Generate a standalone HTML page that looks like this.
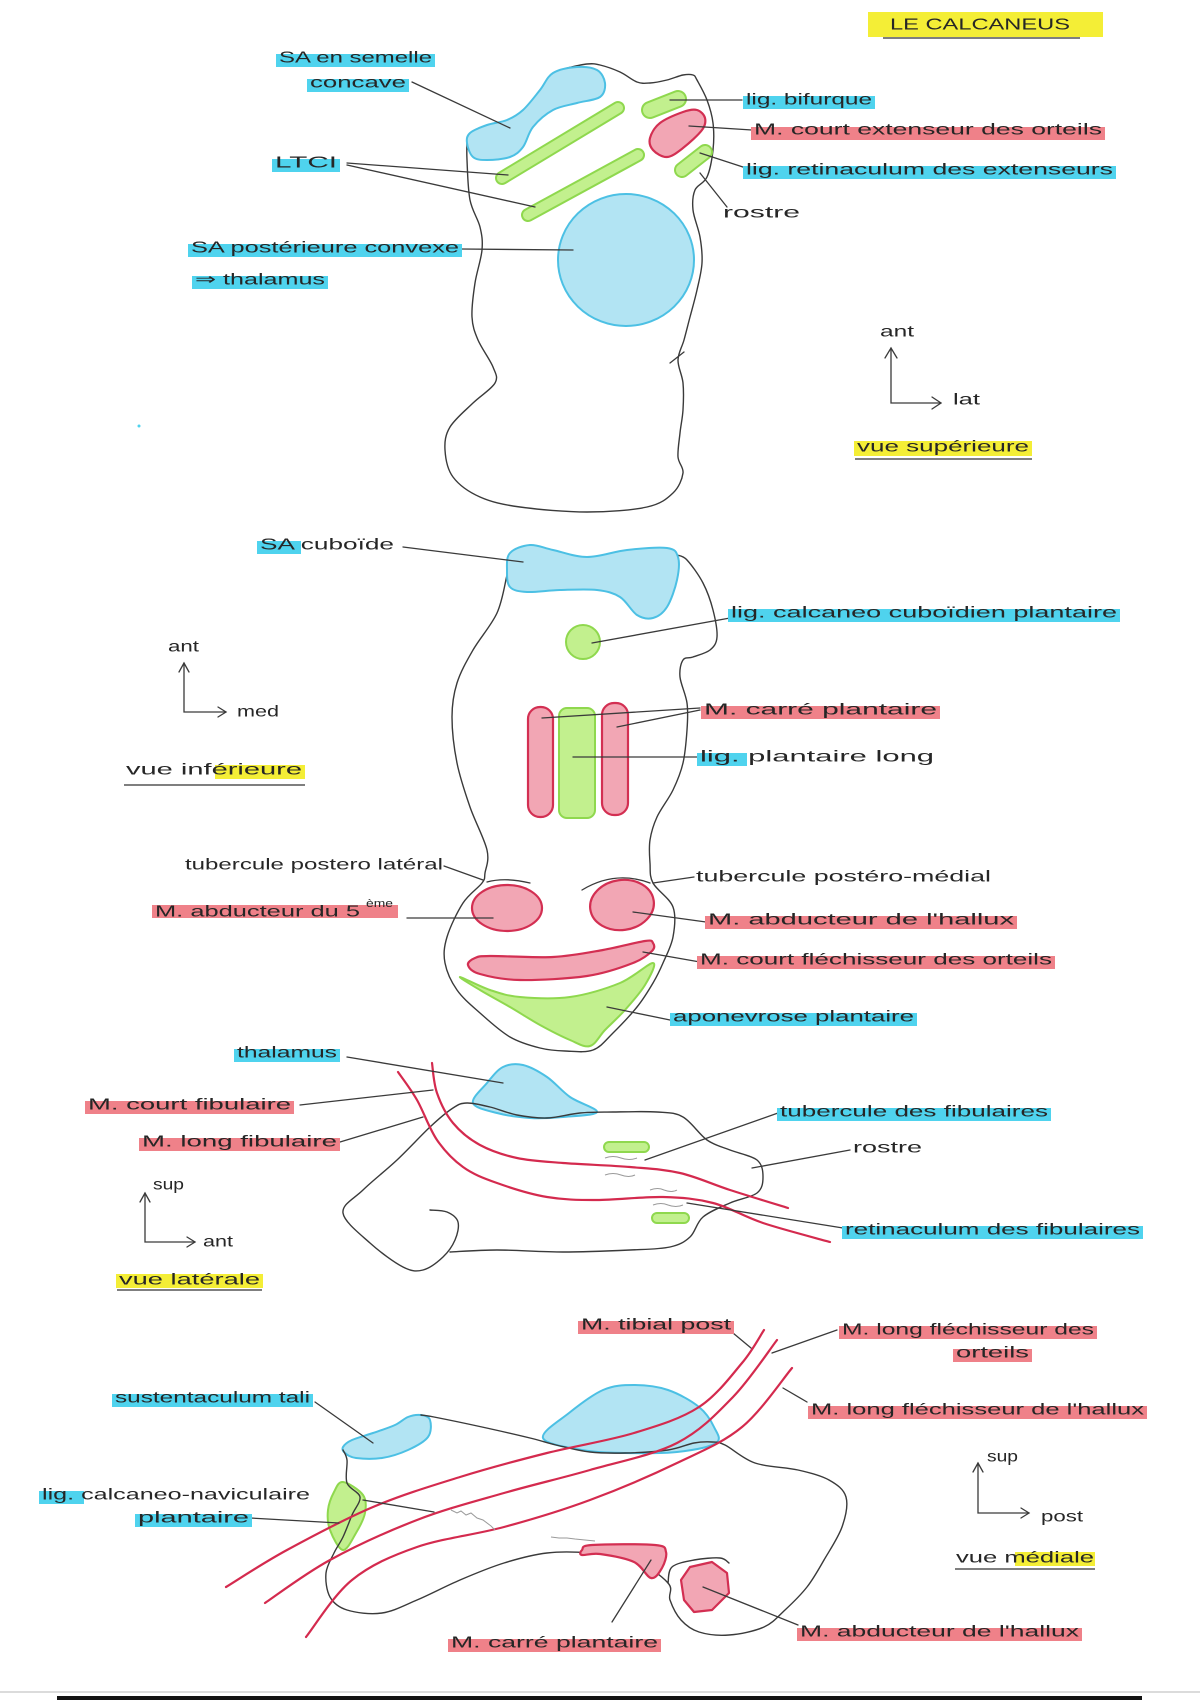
<!DOCTYPE html>
<html><head><meta charset="utf-8">
<style>
html,body{margin:0;padding:0;background:#fff;}
svg{display:block;}
.t{font-family:"Liberation Sans",sans-serif;font-size:16px;fill:#262626;dominant-baseline:central;}
.s{font-size:11px;}
.o{fill:none;stroke:#3a3a3a;stroke-width:1.4;stroke-linejoin:round;stroke-linecap:round;}
.l{fill:none;stroke:#3a3a3a;stroke-width:1.3;stroke-linecap:round;}
.b{fill:#b2e4f3;stroke:#4cc0e4;stroke-width:2;stroke-linejoin:round;}
.g{fill:#c2f08e;stroke:#8fd84e;stroke-width:2;stroke-linejoin:round;}
.r{fill:#f2a6b4;stroke:#d32f52;stroke-width:2.2;stroke-linejoin:round;}
.tn{fill:none;stroke:#d42a4e;stroke-width:2.2;stroke-linecap:round;stroke-linejoin:round;}
.hc{fill:#4fd3ee;}
.hr{fill:#ef8189;}
.hy{fill:#f4ee36;}
.gs{fill:none;stroke:#9a9a9a;stroke-width:1;}
</style></head>
<body>
<svg id="sv" width="1200" height="1700" viewBox="0 0 1200 1700" xmlns="http://www.w3.org/2000/svg">
<rect width="1200" height="1700" fill="#fff"/>

<!-- ================= TITLE ================= -->
<rect x="868" y="12" width="235" height="25" class="hy"/>
<line x1="883" y1="38" x2="1080" y2="38" stroke="#555" stroke-width="1.5"/>
<text x="890" y="25" textLength="180" lengthAdjust="spacingAndGlyphs" class="t">LE CALCANEUS</text>

<!-- ================= SUPERIOR VIEW ================= -->
<polyline class="o sm" points="567,68 587,64 600,65 620,72 637,82 650,83 667,80 683,75 693,75 697,80 707,100 713,123 713,150 707,177 695,190 693,210 700,237 702,263 697,290 690,317 684,340 678,360 683,383 683,410 680,433 678,457 683,473 673,493 647,507 587,512 520,507 480,497 453,477 445,450 450,427 473,403 495,383 493,367 478,340 472,317 475,283 482,250 480,227 470,200 467,160 467,140"/>
<line class="l" x1="670" y1="363" x2="684" y2="352"/>
<!-- blue concave -->
<polygon class="b sm" points="467,143 470,133 487,125 507,120 523,110 540,90 553,73 577,67 597,70 605,83 600,97 577,103 553,110 533,127 523,147 510,157 487,160 473,157"/>
<!-- green bars -->
<line x1="502" y1="178" x2="618" y2="108" stroke="#8fd84e" stroke-width="14" stroke-linecap="round"/>
<line x1="502" y1="178" x2="618" y2="108" stroke="#c2f08e" stroke-width="10" stroke-linecap="round"/>
<line x1="528" y1="215" x2="638" y2="155" stroke="#8fd84e" stroke-width="14" stroke-linecap="round"/>
<line x1="528" y1="215" x2="638" y2="155" stroke="#c2f08e" stroke-width="10" stroke-linecap="round"/>
<line x1="650" y1="110" x2="678" y2="99" stroke="#8fd84e" stroke-width="18" stroke-linecap="round"/>
<line x1="650" y1="110" x2="678" y2="99" stroke="#c2f08e" stroke-width="14" stroke-linecap="round"/>
<line x1="682" y1="170" x2="705" y2="152" stroke="#8fd84e" stroke-width="16" stroke-linecap="round"/>
<line x1="682" y1="170" x2="705" y2="152" stroke="#c2f08e" stroke-width="12" stroke-linecap="round"/>
<!-- red -->
<polygon class="r sm" points="660,123 683,112 697,110 705,118 702,130 683,148 667,157 653,150 650,138"/>
<!-- blue thalamus circle -->
<ellipse class="b" cx="626" cy="260" rx="68" ry="66"/>
<!-- leaders -->
<line class="l" x1="412" y1="82" x2="510" y2="128"/>
<line class="l" x1="347" y1="163" x2="508" y2="175"/>
<line class="l" x1="347" y1="165" x2="535" y2="207"/>
<line class="l" x1="461" y1="249" x2="573" y2="250"/>
<line class="l" x1="670" y1="100" x2="742" y2="100"/>
<line class="l" x1="689" y1="126" x2="752" y2="130"/>
<line class="l" x1="700" y1="153" x2="746" y2="168"/>
<line class="l" x1="700" y1="173" x2="727" y2="207"/>
<!-- labels -->
<rect x="276" y="54" width="159" height="13" class="hc"/>
<text x="279" y="58" textLength="153" lengthAdjust="spacingAndGlyphs" class="t">SA en semelle</text>
<rect x="307" y="79" width="102" height="13" class="hc"/>
<text x="310" y="83" textLength="96" lengthAdjust="spacingAndGlyphs" class="t">concave</text>
<rect x="272" y="159" width="68" height="13" class="hc"/>
<text x="275" y="163" textLength="62" lengthAdjust="spacingAndGlyphs" class="t">LTCI</text>
<rect x="188" y="244" width="274" height="13" class="hc"/>
<text x="191" y="248" textLength="268" lengthAdjust="spacingAndGlyphs" class="t">SA postérieure convexe</text>
<rect x="192" y="276" width="136" height="13" class="hc"/>
<text x="195" y="280" textLength="130" lengthAdjust="spacingAndGlyphs" class="t">⇒ thalamus</text>
<rect x="743" y="96" width="132" height="13" class="hc"/>
<text x="746" y="100" textLength="126" lengthAdjust="spacingAndGlyphs" class="t">lig. bifurque</text>
<rect x="751" y="127" width="354" height="13" class="hr"/>
<text x="754" y="130" textLength="348" lengthAdjust="spacingAndGlyphs" class="t">M. court extenseur des orteils</text>
<rect x="743" y="166" width="373" height="13" class="hc"/>
<text x="746" y="170" textLength="367" lengthAdjust="spacingAndGlyphs" class="t">lig. retinaculum des extenseurs</text>
<text x="723" y="213" textLength="77" lengthAdjust="spacingAndGlyphs" class="t">rostre</text>
<!-- axes -->
<text x="880" y="332" textLength="34" lengthAdjust="spacingAndGlyphs" class="t">ant</text>
<text x="953" y="400" textLength="27" lengthAdjust="spacingAndGlyphs" class="t">lat</text>
<polyline class="l" points="891,348 891,403 941,403"/>
<polyline class="l" points="885,358 891,348 897,358"/>
<polyline class="l" points="932,397 941,403 932,409"/>
<rect x="854" y="441" width="178" height="15" class="hy"/>
<line x1="855" y1="459" x2="1032" y2="459" stroke="#555" stroke-width="1.5"/>
<text x="857" y="447" textLength="172" lengthAdjust="spacingAndGlyphs" class="t">vue supérieure</text>
<circle cx="139" cy="426" r="1.5" fill="#4fd3ee"/>

<!-- ================= INFERIOR VIEW ================= -->
<polyline class="o sm" points="507,575 497,613 473,650 457,683 452,717 457,763 470,807 487,850 485,873 482,883 463,903 447,937 445,963 457,990 480,1013 510,1037 540,1048 565,1051 593,1050 613,1033 637,1007 653,983 663,963 673,937 673,907 653,883 650,863 650,840 657,817 673,790 683,763 687,730 687,703 680,677 683,660 693,657 710,650 717,637 713,610 703,583 687,560 677,555"/>
<polygon class="b sm" points="510,553 530,545 553,550 587,557 627,550 667,548 678,557 677,580 667,607 653,618 637,615 620,597 597,590 560,590 527,592 510,587 507,570"/>
<circle class="g" cx="583" cy="642" r="17"/>
<rect class="r" x="528" y="707" width="25" height="110" rx="12"/>
<rect class="g" x="559" y="708" width="36" height="110" rx="8"/>
<rect class="r" x="602" y="703" width="26" height="112" rx="12"/>
<!-- tubercle arcs -->
<path class="l" d="M487,882 Q505,877 530,883"/>
<path class="l" d="M582,890 Q615,870 650,883"/>
<ellipse class="r" cx="507" cy="908" rx="35" ry="23"/>
<ellipse class="r" cx="622" cy="905" rx="32" ry="25" transform="rotate(-8 622 905)"/>
<polygon class="r sm" points="468,965 475,958 490,956 553,957 603,950 645,941 653,943 652,951 633,963 587,976 520,980 480,974"/>
<polygon class="g sm" points="460,977 490,990 520,997 570,997 620,983 653,963 645,985 625,1010 605,1030 590,1046 570,1040 540,1025 510,1007 480,990"/>
<!-- leaders -->
<line class="l" x1="403" y1="547" x2="523" y2="562"/>
<line class="l" x1="592" y1="643" x2="730" y2="618"/>
<line class="l" x1="700" y1="708" x2="542" y2="718"/>
<line class="l" x1="700" y1="710" x2="617" y2="727"/>
<line class="l" x1="698" y1="757" x2="573" y2="757"/>
<line class="l" x1="444" y1="866" x2="483" y2="880"/>
<line class="l" x1="694" y1="877" x2="653" y2="883"/>
<line class="l" x1="407" y1="918" x2="493" y2="918"/>
<line class="l" x1="633" y1="912" x2="706" y2="922"/>
<line class="l" x1="643" y1="952" x2="700" y2="962"/>
<line class="l" x1="607" y1="1007" x2="670" y2="1020"/>
<!-- labels -->
<rect x="257" y="541" width="44" height="13" class="hc"/>
<text x="260" y="545" textLength="134" lengthAdjust="spacingAndGlyphs" class="t">SA cuboïde</text>
<rect x="728" y="609" width="392" height="13" class="hc"/>
<text x="731" y="613" textLength="386" lengthAdjust="spacingAndGlyphs" class="t">lig. calcaneo cuboïdien plantaire</text>
<text x="168" y="647" textLength="31" lengthAdjust="spacingAndGlyphs" class="t">ant</text>
<text x="237" y="712" textLength="42" lengthAdjust="spacingAndGlyphs" class="t">med</text>
<polyline class="l" points="184,663 184,712 226,712"/>
<polyline class="l" points="179,672 184,663 189,672"/>
<polyline class="l" points="218,707 226,712 218,717"/>
<rect x="215" y="765" width="90" height="14" class="hy"/>
<line x1="124" y1="785" x2="305" y2="785" stroke="#555" stroke-width="1.5"/>
<text x="126" y="770" textLength="176" lengthAdjust="spacingAndGlyphs" class="t">vue inférieure</text>
<rect x="701" y="706" width="239" height="13" class="hr"/>
<text x="704" y="710" textLength="233" lengthAdjust="spacingAndGlyphs" class="t">M. carré plantaire</text>
<rect x="697" y="753" width="50" height="13" class="hc"/>
<text x="700" y="757" textLength="234" lengthAdjust="spacingAndGlyphs" class="t">lig. plantaire long</text>
<text x="185" y="865" textLength="258" lengthAdjust="spacingAndGlyphs" class="t">tubercule postero latéral</text>
<text x="696" y="877" textLength="295" lengthAdjust="spacingAndGlyphs" class="t">tubercule postéro-médial</text>
<rect x="152" y="905" width="246" height="13" class="hr"/>
<text x="155" y="912" textLength="205" lengthAdjust="spacingAndGlyphs" class="t">M. abducteur du 5</text>
<text x="366" y="904" textLength="27" lengthAdjust="spacingAndGlyphs" class="t s">ème</text>
<rect x="705" y="916" width="312" height="13" class="hr"/>
<text x="708" y="920" textLength="306" lengthAdjust="spacingAndGlyphs" class="t">M. abducteur de l'hallux</text>
<rect x="697" y="956" width="358" height="13" class="hr"/>
<text x="700" y="960" textLength="352" lengthAdjust="spacingAndGlyphs" class="t">M. court fléchisseur des orteils</text>
<rect x="670" y="1013" width="247" height="13" class="hc"/>
<text x="673" y="1017" textLength="241" lengthAdjust="spacingAndGlyphs" class="t">aponevrose plantaire</text>

<!-- ================= LATERAL VIEW ================= -->
<polygon class="b sm" points="473,1103 487,1083 503,1067 523,1065 547,1077 570,1097 597,1112 563,1117 530,1118 497,1113"/>
<polyline class="o sm" points="430,1210 447,1212 458,1222 455,1240 443,1257 423,1270 403,1267 370,1243 343,1213 363,1190 397,1160 430,1127 453,1108 467,1103 490,1107 517,1115 547,1118 580,1113 613,1112 657,1112 683,1117 707,1140 730,1150 757,1160 763,1177 757,1193 730,1203 703,1217 690,1237 670,1247 630,1250 563,1252 497,1250 450,1252"/>
<polyline class="tn sm" points="398,1072 417,1100 437,1140 463,1167 497,1183 547,1197 597,1200 663,1197 713,1203 763,1223 830,1242"/>
<polyline class="tn sm" points="432,1063 437,1093 453,1123 480,1145 517,1158 563,1163 630,1167 680,1173 730,1190 788,1208"/>
<rect x="604" y="1142" width="45" height="10" rx="5" class="g"/>
<rect x="652" y="1213" width="37" height="10" rx="5" class="g"/>
<path class="gs" d="M605,1158 q8,-3 16,0 q8,3 16,0"/>
<path class="gs" d="M605,1175 q8,-3 16,0 q8,3 14,0"/>
<path class="gs" d="M650,1190 q8,-3 14,0 q8,3 13,0"/>
<path class="gs" d="M653,1205 q8,-3 15,0 q8,3 15,0"/>
<!-- leaders -->
<line class="l" x1="347" y1="1057" x2="503" y2="1083"/>
<line class="l" x1="300" y1="1105" x2="433" y2="1090"/>
<line class="l" x1="340" y1="1142" x2="423" y2="1117"/>
<line class="l" x1="778" y1="1113" x2="645" y2="1160"/>
<line class="l" x1="850" y1="1150" x2="752" y2="1168"/>
<line class="l" x1="843" y1="1228" x2="687" y2="1203"/>
<!-- labels -->
<rect x="234" y="1049" width="106" height="13" class="hc"/>
<text x="237" y="1053" textLength="100" lengthAdjust="spacingAndGlyphs" class="t">thalamus</text>
<rect x="85" y="1101" width="209" height="13" class="hr"/>
<text x="88" y="1105" textLength="203" lengthAdjust="spacingAndGlyphs" class="t">M. court fibulaire</text>
<rect x="139" y="1138" width="201" height="13" class="hr"/>
<text x="142" y="1142" textLength="195" lengthAdjust="spacingAndGlyphs" class="t">M. long fibulaire</text>
<rect x="777" y="1108" width="274" height="13" class="hc"/>
<text x="780" y="1112" textLength="268" lengthAdjust="spacingAndGlyphs" class="t">tubercule des fibulaires</text>
<text x="853" y="1148" textLength="69" lengthAdjust="spacingAndGlyphs" class="t">rostre</text>
<rect x="842" y="1226" width="301" height="13" class="hc"/>
<text x="845" y="1230" textLength="295" lengthAdjust="spacingAndGlyphs" class="t">retinaculum des fibulaires</text>
<text x="153" y="1185" textLength="31" lengthAdjust="spacingAndGlyphs" class="t">sup</text>
<text x="203" y="1242" textLength="30" lengthAdjust="spacingAndGlyphs" class="t">ant</text>
<polyline class="l" points="145,1193 145,1242 195,1242"/>
<polyline class="l" points="140,1202 145,1193 150,1202"/>
<polyline class="l" points="187,1237 195,1242 187,1247"/>
<rect x="116" y="1274" width="147" height="14" class="hy"/>
<line x1="117" y1="1290" x2="262" y2="1290" stroke="#555" stroke-width="1.5"/>
<text x="119" y="1280" textLength="141" lengthAdjust="spacingAndGlyphs" class="t">vue latérale</text>

<!-- ================= MEDIAL VIEW ================= -->
<polygon class="b sm" points="543,1438 569,1413 603,1390 634,1385 668,1390 699,1407 714,1427 716,1443 677,1452 625,1453 582,1450"/>
<polygon class="b sm" points="343,1447 352,1440 373,1433 395,1425 408,1417 421,1415 430,1420 428,1437 408,1450 382,1458 356,1458 345,1453"/>
<polygon class="g sm" points="343,1482 363,1495 365,1513 356,1533 343,1550 330,1530 328,1510 334,1492"/>
<polyline class="o sm" points="421,1415 434,1417 482,1427 530,1438 556,1445 590,1452 625,1453 668,1450 694,1443 712,1442 725,1445 755,1463 798,1470 829,1480 846,1497 842,1527 824,1560 807,1587 785,1610 764,1627 729,1635 699,1632 681,1620 670,1600 668,1583 634,1560 590,1553 547,1553 504,1563 460,1580 417,1600 382,1613 347,1610 330,1597 326,1573 334,1553 343,1537 352,1515 360,1497 347,1483 347,1460 343,1450"/>
<polyline class="o sm" points="668,1583 672,1567 694,1560 720,1558 729,1563"/>
<polygon class="r sm" points="582,1550 592,1545 655,1545 666,1552 662,1568 651,1578 634,1562 600,1554 582,1555"/>
<polygon class="r" points="690,1567 712,1562 727,1573 729,1593 712,1610 694,1612 684,1600 681,1580"/>
<polyline class="tn sm" points="226,1587 287,1550 373,1507 460,1477 547,1453 634,1433 699,1407 742,1363 764,1330"/>
<polyline class="tn sm" points="265,1603 330,1560 417,1520 504,1493 590,1470 677,1443 733,1397 777,1340"/>
<polyline class="tn sm" points="306,1637 352,1580 417,1547 504,1527 590,1500 677,1463 742,1427 792,1368"/>
<path class="gs" d="M451,1510 l6,3 l4,-2 l5,4 l5,-2 l6,5 l6,2 l8,6 l4,4"/>
<path class="gs" d="M551,1537 l8,1 l8,0 l8,1 l10,1 l10,1"/>
<!-- leaders -->
<line class="l" x1="733" y1="1333" x2="751" y2="1348"/>
<line class="l" x1="837" y1="1330" x2="772" y2="1353"/>
<line class="l" x1="783" y1="1388" x2="807" y2="1402"/>
<line class="l" x1="315" y1="1402" x2="373" y2="1443"/>
<line class="l" x1="363" y1="1500" x2="434" y2="1512"/>
<line class="l" x1="250" y1="1518" x2="339" y2="1523"/>
<line class="l" x1="612" y1="1622" x2="651" y2="1560"/>
<line class="l" x1="703" y1="1587" x2="798" y2="1625"/>
<!-- labels -->
<rect x="578" y="1321" width="156" height="13" class="hr"/>
<text x="581" y="1325" textLength="150" lengthAdjust="spacingAndGlyphs" class="t">M. tibial post</text>
<rect x="839" y="1326" width="258" height="13" class="hr"/>
<text x="842" y="1330" textLength="252" lengthAdjust="spacingAndGlyphs" class="t">M. long fléchisseur des</text>
<rect x="953" y="1349" width="79" height="13" class="hr"/>
<text x="956" y="1353" textLength="73" lengthAdjust="spacingAndGlyphs" class="t">orteils</text>
<rect x="112" y="1394" width="201" height="13" class="hc"/>
<text x="115" y="1398" textLength="195" lengthAdjust="spacingAndGlyphs" class="t">sustentaculum tali</text>
<rect x="808" y="1406" width="339" height="13" class="hr"/>
<text x="811" y="1410" textLength="333" lengthAdjust="spacingAndGlyphs" class="t">M. long fléchisseur de l'hallux</text>
<rect x="39" y="1491" width="45" height="13" class="hc"/>
<text x="42" y="1495" textLength="268" lengthAdjust="spacingAndGlyphs" class="t">lig. calcaneo-naviculaire</text>
<rect x="135" y="1514" width="117" height="13" class="hc"/>
<text x="138" y="1518" textLength="111" lengthAdjust="spacingAndGlyphs" class="t">plantaire</text>
<text x="987" y="1457" textLength="31" lengthAdjust="spacingAndGlyphs" class="t">sup</text>
<text x="1041" y="1517" textLength="42" lengthAdjust="spacingAndGlyphs" class="t">post</text>
<polyline class="l" points="978,1463 978,1513 1029,1513"/>
<polyline class="l" points="973,1472 978,1463 983,1472"/>
<polyline class="l" points="1021,1508 1029,1513 1021,1518"/>
<rect x="1015" y="1552" width="80" height="14" class="hy"/>
<line x1="955" y1="1569" x2="1095" y2="1569" stroke="#555" stroke-width="1.5"/>
<text x="956" y="1558" textLength="138" lengthAdjust="spacingAndGlyphs" class="t">vue médiale</text>
<rect x="448" y="1639" width="213" height="13" class="hr"/>
<text x="451" y="1643" textLength="207" lengthAdjust="spacingAndGlyphs" class="t">M. carré plantaire</text>
<rect x="797" y="1628" width="285" height="13" class="hr"/>
<text x="800" y="1632" textLength="279" lengthAdjust="spacingAndGlyphs" class="t">M. abducteur de l'hallux</text>

<!-- bottom scan edge -->
<line x1="0" y1="1692" x2="1200" y2="1692" stroke="#cfcfcf" stroke-width="1.5"/>
<rect x="57" y="1696" width="1085" height="4" fill="#111"/>
</svg>
<script>
(function(){
  try{
    var NS="http://www.w3.org/2000/svg";
    var els=document.querySelectorAll("#sv .sm");
    for(var k=0;k<els.length;k++){
      var el=els[k];
      var closed=el.tagName.toLowerCase()==="polygon";
      var raw=el.getAttribute("points").trim().split(/\s+/);
      var p=[];
      for(var i=0;i<raw.length;i++){var c=raw[i].split(",");p.push([+c[0],+c[1]]);}
      var n=p.length; if(n<3) continue;
      function g(i){ if(closed){return p[(i+n)%n];} return p[Math.max(0,Math.min(n-1,i))]; }
      var d="M"+p[0][0]+","+p[0][1];
      var segs=closed?n:n-1;
      for(var i=0;i<segs;i++){
        var p0=g(i-1),p1=g(i),p2=g(i+1),p3=g(i+2);
        var c1x=p1[0]+(p2[0]-p0[0])/6,c1y=p1[1]+(p2[1]-p0[1])/6;
        var c2x=p2[0]-(p3[0]-p1[0])/6,c2y=p2[1]-(p3[1]-p1[1])/6;
        d+=" C"+c1x.toFixed(1)+","+c1y.toFixed(1)+" "+c2x.toFixed(1)+","+c2y.toFixed(1)+" "+p2[0]+","+p2[1];
      }
      if(closed) d+=" Z";
      var path=document.createElementNS(NS,"path");
      path.setAttribute("d",d);
      path.setAttribute("class",el.getAttribute("class"));
      el.parentNode.replaceChild(path,el);
    }
  }catch(e){}
})();
</script>
</body></html>
